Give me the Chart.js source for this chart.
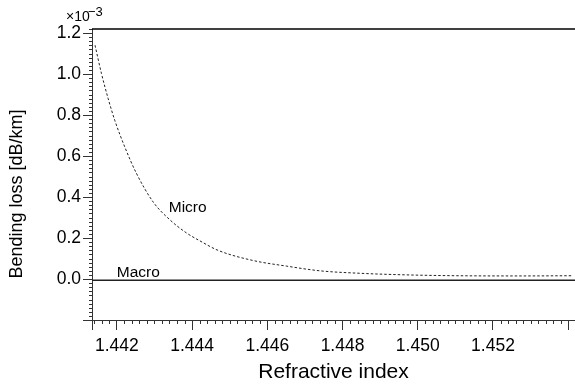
<!DOCTYPE html>
<html>
<head>
<meta charset="utf-8">
<script src="https://cdn.jsdelivr.net/npm/chart.js@4.4.1/dist/chart.umd.min.js"></script>
<style>
  html, body { margin: 0; padding: 0; background: #fff; }
  canvas { display: block; }
</style>
</head>
<body>
<canvas id="c" width="575" height="386"></canvas>
<script>
const FONT = "'Liberation Sans', Arial, Helvetica, sans-serif";

// Axis ranges (loss in units of 1e-3 dB/km)
const xRange = [1.44134, 1.45418];
const yRange = [-0.2, 1.22];

// Major ticks and their labels
const xMajorTicks = [1.442, 1.444, 1.446, 1.448, 1.450, 1.452, 1.454];
const xTickLabels = ['1.442', '1.444', '1.446', '1.448', '1.450', '1.452', ''];
const yMajorTicks = [-0.2, 0.0, 0.2, 0.4, 0.6, 0.8, 1.0, 1.2];
const yTickLabels = ['', '0.0', '0.2', '0.4', '0.6', '0.8', '1.0', '1.2'];

// Microbending loss versus refractive index
const microIndex = [1.44142, 1.44159, 1.44177, 1.44195, 1.44221, 1.44252, 1.44297, 1.44341,
                    1.44385, 1.44421, 1.44469, 1.44563, 1.44651, 1.44740, 1.44846, 1.44953,
                    1.45104, 1.45280, 1.45413];
const microLoss  = [1.141, 1.004, 0.880, 0.772, 0.645, 0.516, 0.375, 0.289,
                    0.225, 0.186, 0.140, 0.090, 0.063, 0.040, 0.028, 0.021,
                    0.016, 0.015, 0.016];

// Macrobending loss (flat across the range)
const macroIndex = [1.44134, 1.45418];
const macroLoss  = [-0.006, -0.006];

// Series annotations placed in data coordinates
const seriesLabels = [
  { text: 'Macro', x: 1.44200, y: 0.010 },
  { text: 'Micro', x: 1.44338, y: 0.327 }
];

const toPoints = (xs, ys) => xs.map((x, i) => ({ x: x, y: ys[i] }));

function labelFor(value, ticks, labels) {
  for (let i = 0; i < ticks.length; i++) {
    if (Math.abs(ticks[i] - value) < 1e-9) return labels[i];
  }
  return '';
}

// Small minor ticks on both axes, top frame line and free text
const decorations = {
  id: 'decorations',
  afterDraw(chart) {
    const ctx = chart.ctx;
    const xs = chart.scales.x, ys = chart.scales.y;
    const area = chart.chartArea;
    ctx.save();

    // top frame line
    ctx.strokeStyle = '#000';
    ctx.lineWidth = 1.5;
    ctx.beginPath();
    ctx.moveTo(area.left, area.top);
    ctx.lineTo(area.right, area.top);
    ctx.stroke();

    // minor ticks
    ctx.strokeStyle = '#333';
    ctx.lineWidth = 1;
    ctx.beginPath();
    for (let k = 7207; k <= 7270; k++) {
      if (k % 10 === 0) continue;
      const v = k * 0.0002;
      if (v < xRange[0] || v > xRange[1]) continue;
      const px = Math.round(xs.getPixelForValue(v)) + 0.5;
      ctx.moveTo(px, area.bottom);
      ctx.lineTo(px, area.bottom + 4);
    }
    for (let k = -10; k <= 61; k++) {
      if (k % 10 === 0) continue;
      const v = k * 0.02;
      if (v < yRange[0] || v > yRange[1]) continue;
      const py = Math.round(ys.getPixelForValue(v)) + 0.5;
      ctx.moveTo(area.left - 3, py);
      ctx.lineTo(area.left, py);
    }
    ctx.stroke();

    ctx.fillStyle = '#000';
    ctx.textAlign = 'left';
    ctx.textBaseline = 'alphabetic';

    // exponent marker above the y axis
    ctx.font = '14px ' + FONT;
    ctx.fillText('\u00d710', 66, 21);
    ctx.font = '13px ' + FONT;
    ctx.fillText('\u22123', 88, 15.5);

    // series annotations
    ctx.font = '15.5px ' + FONT;
    seriesLabels.forEach(l => {
      ctx.fillText(l.text, xs.getPixelForValue(l.x), ys.getPixelForValue(l.y));
    });

    // y axis title
    ctx.font = '18px ' + FONT;
    ctx.translate(21.7, 194);
    ctx.rotate(-Math.PI / 2);
    ctx.textAlign = 'center';
    ctx.fillText('Bending loss [dB/km]', 0, 0);

    ctx.restore();
  }
};

new Chart(document.getElementById('c'), {
  type: 'line',
  data: {
    datasets: [
      {
        label: 'Micro',
        data: toPoints(microIndex, microLoss),
        borderColor: '#222',
        borderWidth: 1,
        borderDash: [2.5, 2],
        pointRadius: 0,
        fill: false,
        cubicInterpolationMode: 'monotone'
      },
      {
        label: 'Macro',
        data: toPoints(macroIndex, macroLoss),
        borderColor: '#222',
        borderWidth: 1.3,
        pointRadius: 0,
        fill: false
      }
    ]
  },
  options: {
    responsive: false,
    devicePixelRatio: 1,
    animation: false,
    layout: { padding: { top: 29, right: 0, bottom: 0, left: 0 } },
    plugins: {
      legend: { display: false },
      tooltip: { enabled: false }
    },
    scales: {
      x: {
        type: 'linear',
        position: 'bottom',
        min: xRange[0],
        max: xRange[1],
        afterBuildTicks(scale) {
          scale.ticks = [{ value: xRange[0] }].concat(xMajorTicks.map(v => ({ value: v })));
        },
        afterFit(scale) { scale.height = 66; },
        grid: { drawOnChartArea: false, drawTicks: true, tickLength: 10, color: '#333', lineWidth: 1 },
        border: { display: true, color: '#333', width: 1 },
        ticks: {
          autoSkip: false,
          maxRotation: 0,
          padding: 6,
          color: '#000',
          font: { family: FONT, size: 17.5 },
          callback: (value) => labelFor(value, xMajorTicks, xTickLabels)
        },
        title: {
          display: true,
          text: 'Refractive index',
          color: '#000',
          font: { family: FONT, size: 21 },
          padding: { top: 0, bottom: 1 }
        }
      },
      y: {
        type: 'linear',
        min: yRange[0],
        max: yRange[1],
        afterBuildTicks(scale) {
          scale.ticks = yMajorTicks.map(v => ({ value: v }));
        },
        afterFit(scale) { scale.width = 92; },
        grid: { drawOnChartArea: false, drawTicks: true, tickLength: 9, color: '#333', lineWidth: 1 },
        border: { display: true, color: '#333', width: 1 },
        ticks: {
          autoSkip: false,
          padding: 2,
          color: '#000',
          font: { family: FONT, size: 17.5 },
          callback: (value) => labelFor(value, yMajorTicks, yTickLabels)
        }
      }
    }
  },
  plugins: [decorations]
});
</script>
</body>
</html>
